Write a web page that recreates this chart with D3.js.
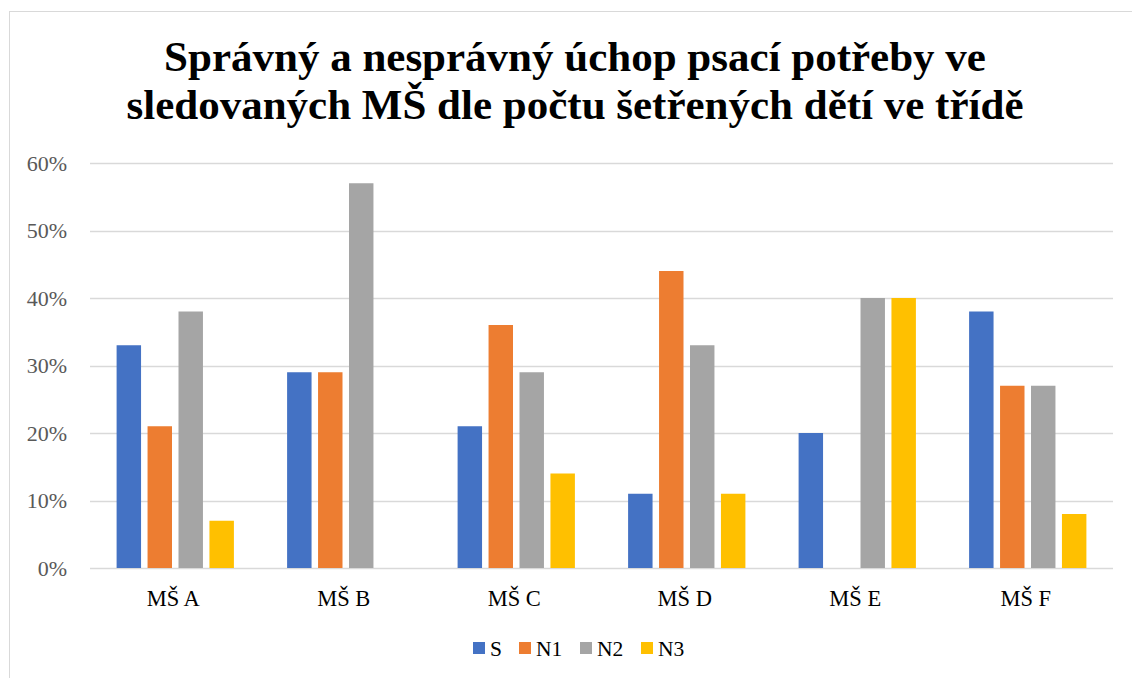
<!DOCTYPE html>
<html>
<head>
<meta charset="utf-8">
<script src="https://cdn.jsdelivr.net/npm/d3@7"></script>
</head>
<body style="margin:0">
<script>
// data (percent of children)
let categories = ['MŠ A', 'MŠ B', 'MŠ C', 'MŠ D', 'MŠ E', 'MŠ F'];
let seriesNames = ['S', 'N1', 'N2', 'N3'];
let valS  = [33, 29, 21, 11, 20, 38];
let valN1 = [21, 29, 36, 44, 0, 27];
let valN2 = [38, 57, 29, 33, 40, 27];
let valN3 = [7, 0, 14, 11, 40, 8];
let colors = ['#4472C4', '#ED7D31', '#A5A5A5', '#FFC000'];
let yTicks = [0, 10, 20, 30, 40, 50, 60];
let titleLines = ['Správný a nesprávný úchop psací potřeby ve',
                  'sledovaných MŠ dle počtu šetřených dětí ve třídě'];

let fontName = '"Liberation Serif", "Times New Roman", serif';
let width = 1132, height = 678;
let plotLeft = 90, plotRight = 1113, plotTop = 163, plotBottom = 568;

let svg = d3.select('body').append('svg')
    .attr('width', width)
    .attr('height', height);

// chart border
svg.append('rect')
    .attr('x', 9.5).attr('y', 11.5)
    .attr('width', 1140).attr('height', 700)
    .attr('fill', '#fff')
    .attr('stroke', '#d9d9d9')
    .attr('stroke-width', 1);

// title
svg.selectAll('text.title')
    .data(titleLines)
    .join('text')
    .attr('class', 'title')
    .attr('text-anchor', 'middle')
    .attr('x', 575)
    .attr('y', function(d, i) { return 71 + i * 48; })
    .style('font-family', fontName)
    .style('font-weight', 'bold')
    .style('font-size', '43px')
    .attr('fill', '#000')
    .text(function(d) { return d; });

let x = d3.scaleBand().domain(categories).range([plotLeft, plotRight]).paddingInner(0).paddingOuter(0);
let y = d3.scaleLinear().domain([0, 60]).range([plotBottom, plotTop]);
let xs = d3.scaleBand().domain(seriesNames).range([26.6, x.bandwidth() - 26.6]).paddingInner(0.21);

// gridlines
svg.append('g')
    .selectAll('line')
    .data(yTicks)
    .join('line')
    .attr('x1', plotLeft).attr('x2', plotRight)
    .attr('y1', function(d) { return Math.round(y(d)) + 0.5; })
    .attr('y2', function(d) { return Math.round(y(d)) + 0.5; })
    .attr('stroke', '#d9d9d9')
    .attr('stroke-width', 1.3);

// y axis labels
let yAxis = svg.append('g')
    .attr('transform', 'translate(' + (plotLeft - 23) + ',0)')
    .call(d3.axisLeft(y).tickValues(yTicks).tickSize(0).tickPadding(0)
        .tickFormat(function(d) { return d + '%'; }));
yAxis.attr('font-family', null).attr('font-size', null);
yAxis.select('.domain').remove();
yAxis.selectAll('text')
    .style('font-family', fontName)
    .style('font-size', '22px')
    .attr('fill', '#595959');

// bars
let rows = categories.map(function(c, i) {
    return { cat: c, vals: [valS[i], valN1[i], valN2[i], valN3[i]] };
});

let groups = svg.append('g')
    .selectAll('g')
    .data(rows)
    .join('g')
    .attr('transform', function(d) { return 'translate(' + x(d.cat) + ',0)'; });

groups.selectAll('rect')
    .data(function(d) {
        return d.vals.map(function(v, j) { return { name: seriesNames[j], value: v, color: colors[j] }; });
    })
    .join('rect')
    .attr('x', function(d) { return xs(d.name); })
    .attr('width', xs.bandwidth())
    .attr('y', function(d) { return y(d.value); })
    .attr('height', function(d) { return y(0) - y(d.value); })
    .attr('fill', function(d) { return d.color; });

// x axis labels
let xAxis = svg.append('g')
    .attr('transform', 'translate(-2,' + (plotBottom + 22) + ')')
    .call(d3.axisBottom(x).tickSize(0).tickPadding(0));
xAxis.attr('font-family', null).attr('font-size', null);
xAxis.select('.domain').remove();
xAxis.selectAll('text')
    .style('font-family', fontName)
    .style('font-size', '22.5px')
    .attr('fill', '#000');

// legend
let legendX = [473, 519, 580, 641];
let legend = svg.append('g')
    .selectAll('g')
    .data(seriesNames)
    .join('g')
    .attr('transform', function(d, i) { return 'translate(' + legendX[i] + ',642)'; });
legend.append('rect')
    .attr('width', 12).attr('height', 12)
    .attr('fill', function(d, i) { return colors[i]; });
legend.append('text')
    .attr('x', 17).attr('y', 14)
    .style('font-family', fontName)
    .style('font-size', '21.5px')
    .attr('fill', '#000')
    .text(function(d) { return d; });
</script>
</body>
</html>
